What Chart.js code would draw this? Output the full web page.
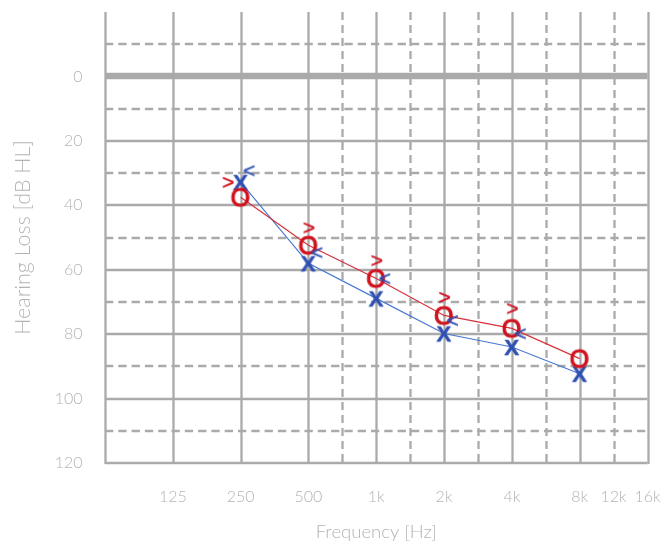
<!DOCTYPE html>
<html>
<head>
<meta charset="utf-8">
<script src="https://cdn.jsdelivr.net/npm/chart.js@4"></script>
<style>
  html, body { margin: 0; padding: 0; background: #fff; }
  #wrap { width: 662px; height: 545px; }
</style>
</head>
<body>
<div id="wrap"><canvas id="audiogram"></canvas></div>
<script>
// tick labels on the frequency axis (12k sits on the half-octave line, as on the form)
const freqLabels = ["125", "250", "500", "1k", "2k", "4k", "8k", "12k", "16k"];
const freqTicksHz = [125, 250, 500, 1000, 2000, 4000, 8000, 11314, 16000];
const dbTicks = [0, 20, 40, 60, 80, 100, 120];

// air conduction
const airFreqs = [250, 500, 1000, 2000, 4000, 8000];
const rightAir = [37.5, 52.4, 62.7, 74.2, 78.2, 87.6]; // red O
const leftAir = [32.8, 58, 68.9, 79.8, 84, 92.3];      // blue X

// bone conduction
const boneFreqs = [250, 500, 1000, 2000, 4000];
const rightBone = [32.8, 46.9, 57.1, 68.5, 72];  // red >
const leftBone = [29.2, 54.6, 62.7, 75.7, 79.8]; // blue <

const RED = "#d0121e";
const BLUE = "#2f50b2";
const GRID = "#aaaaaa";
const TEXT = "#b3b3b3";

// octaves above 62.5 Hz (left edge of the form)
const oct = (f) => Math.log2(f / 62.5);

function glyph(ch, color, font, dx = 0, dy = 0, stroke = 0) {
  const c = document.createElement("canvas");
  c.width = 50;
  c.height = 50;
  const g = c.getContext("2d");
  g.font = font;
  g.fillStyle = color;
  g.strokeStyle = color;
  g.lineWidth = stroke;
  const m = g.measureText(ch);
  const w = m.actualBoundingBoxLeft + m.actualBoundingBoxRight;
  const h = m.actualBoundingBoxAscent + m.actualBoundingBoxDescent;
  const tx = 25 + dx - w / 2 + m.actualBoundingBoxLeft;
  const ty = 25 + dy + h / 2 - m.actualBoundingBoxDescent;
  g.fillText(ch, tx, ty);
  if (stroke) g.strokeText(ch, tx, ty);
  return c;
}

const oMark = glyph("O", RED, "25px 'Liberation Sans'", 0, 0, 1.1);
const xMark = glyph("X", BLUE, "bold 22px 'Liberation Sans'", 0, 0, 0.5);
const gtMarks = boneFreqs.map((f, i) =>
  glyph(">", RED, "21px 'Liberation Sans'", i === 0 ? -12 : 1, 0, 0.4)
);
const ltMark = glyph("<", BLUE, "21px 'Liberation Sans'", 9, 0, 0.4);

const toPoints = (freqs, vals) => freqs.map((f, i) => ({ x: oct(f), y: vals[i] }));

const noAutoPadding = (s) => {
  s.paddingLeft = 0;
  s.paddingRight = 0;
  s.paddingTop = 0;
  s.paddingBottom = 0;
};

const gridPlugin = {
  id: "audioGrid",
  beforeDatasetsDraw(chart) {
    const { ctx, chartArea: a, scales: { x, y } } = chart;
    const line = (x1, y1, x2, y2) => {
      ctx.beginPath();
      ctx.moveTo(x1, y1);
      ctx.lineTo(x2, y2);
      ctx.stroke();
    };
    ctx.save();
    ctx.strokeStyle = GRID;
    ctx.lineWidth = 2.3;

    // dashed half-octave verticals from 750 Hz up
    ctx.setLineDash([8, 5]);
    for (let o = 3.5; o <= 7.5; o += 1) {
      const px = Math.round(x.getPixelForValue(o)) + 0.5;
      line(px, a.top, px, a.bottom);
    }
    // dB lines
    for (let v = -10; v <= 120; v += 10) {
      const py = Math.round(y.getPixelForValue(v));
      const major = v % 20 === 0;
      ctx.setLineDash(major ? [] : [8.3, 5]);
      ctx.lineWidth = v === 0 ? 6.5 : 2.3;
      line(a.left, py, a.right, py);
    }
    // octave verticals
    ctx.setLineDash([]);
    ctx.lineWidth = 2.3;
    for (let o = 0; o <= 8; o += 1) {
      const px = Math.round(x.getPixelForValue(o)) + 0.5;
      line(px, a.top, px, a.bottom + 1);
    }
    ctx.restore();
  },
};

new Chart(document.getElementById("audiogram"), {
  type: "scatter",
  data: {
    datasets: [
      {
        label: "Right bone",
        data: toPoints(boneFreqs, rightBone),
        pointStyle: gtMarks,
        showLine: false,
      },
      {
        label: "Left bone",
        data: toPoints(boneFreqs, leftBone),
        pointStyle: ltMark,
        showLine: false,
      },
      {
        label: "Right air",
        data: toPoints(airFreqs, rightAir),
        pointStyle: oMark,
        showLine: true,
        borderColor: "#d8323a",
        borderWidth: 1.2,
      },
      {
        label: "Left air",
        data: toPoints(airFreqs, leftAir),
        pointStyle: xMark,
        showLine: true,
        borderColor: "#4a78d2",
        borderWidth: 1.2,
      },
    ],
  },
  options: {
    responsive: true,
    maintainAspectRatio: false,
    animation: false,
    devicePixelRatio: 1,
    layout: { padding: { left: 0, right: 14.5, top: 12, bottom: 0 } },
    plugins: {
      legend: { display: false },
      tooltip: { enabled: false },
    },
    scales: {
      x: {
        type: "linear",
        min: 0,
        max: 8,
        grid: { display: false },
        border: { display: false },
        afterBuildTicks: (s) => {
          s.ticks = freqTicksHz.map((f) => ({ value: oct(f) }));
        },
        afterFit: (s) => {
          s.height = 82;
          noAutoPadding(s);
        },
        ticks: {
          autoSkip: false,
          maxRotation: 0,
          padding: 16,
          color: TEXT,
          font: { family: "Lato", size: 16, weight: 300 },
          callback: (v) => {
            const i = freqTicksHz.findIndex((f) => Math.abs(oct(f) - v) < 1e-6);
            return i >= 0 ? freqLabels[i] : "";
          },
        },
        title: {
          display: true,
          text: "Frequency [Hz]",
          color: TEXT,
          font: { family: "Lato", size: 18.5, weight: 300 },
          padding: { top: 0, bottom: 2 },
        },
      },
      y: {
        type: "linear",
        reverse: true,
        min: -20,
        max: 120,
        grid: { display: false },
        border: { display: false },
        afterBuildTicks: (s) => {
          s.ticks = dbTicks.map((v) => ({ value: v }));
        },
        afterFit: (s) => {
          s.width = 105;
          noAutoPadding(s);
        },
        ticks: {
          padding: 14.5,
          color: TEXT,
          font: { family: "Lato", size: 16, weight: 300 },
        },
        title: {
          display: true,
          text: "Hearing Loss [dB HL]",
          color: TEXT,
          font: { family: "Lato", size: 21.5, weight: 300 },
          padding: { top: 10.5, bottom: 0 },
        },
      },
    },
  },
  plugins: [gridPlugin],
});
</script>
</body>
</html>
